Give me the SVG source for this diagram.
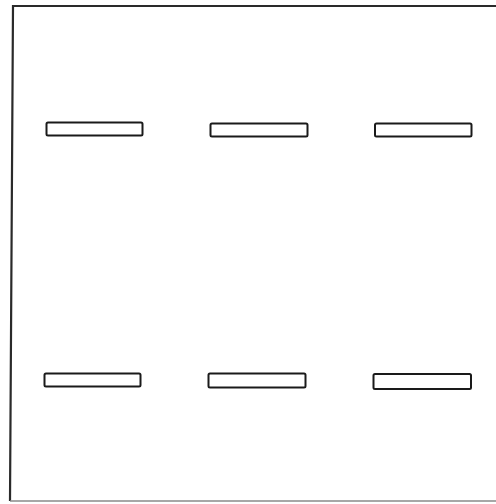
<svg xmlns="http://www.w3.org/2000/svg" width="496" height="504" viewBox="0 0 496 504">
<style>
.frame{fill:none;stroke:#2a2a2a;stroke-width:2.2}
.bottom{fill:none;stroke:#8a8a8a;stroke-width:1.4}
.slot{fill:#fff;stroke:#1a1a1a;stroke-width:2}
</style>
<rect width="496" height="504" fill="#fff"/>
<g id="frame">
<path class="frame" d="M498 6 L13 6 L10 501"/>
<path class="bottom" d="M10 501 L498 501"/>
</g>
<g id="slot-1"><rect class="slot" x="46.5" y="122.5" width="96" height="13" rx="1.5"/></g>
<g id="slot-2"><rect class="slot" x="210.5" y="123.5" width="97" height="13" rx="1.5"/></g>
<g id="slot-3"><rect class="slot" x="375" y="123.5" width="96.5" height="13" rx="1.5"/></g>
<g id="slot-4"><rect class="slot" x="44.5" y="373.5" width="96" height="13" rx="1.5"/></g>
<g id="slot-5"><rect class="slot" x="208.5" y="373.5" width="97" height="14" rx="1.5"/></g>
<g id="slot-6"><rect class="slot" x="373.5" y="374" width="97.5" height="15" rx="1.5"/></g>
<g id="connectors"></g>
</svg>
